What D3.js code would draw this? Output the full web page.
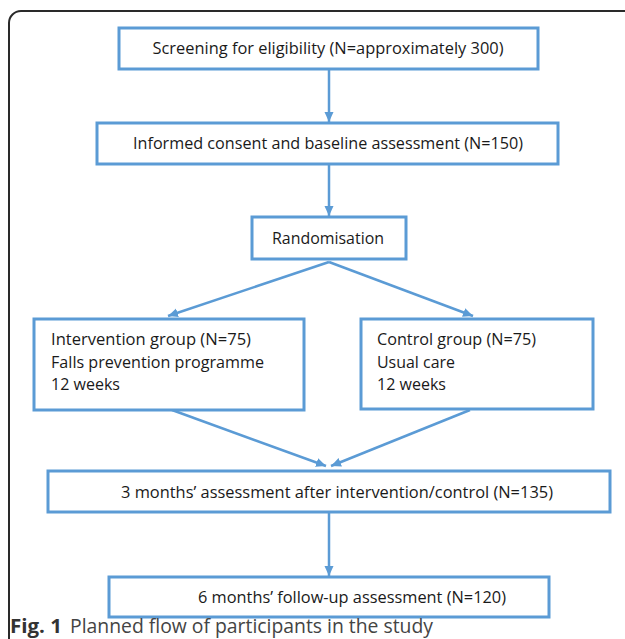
<!DOCTYPE html>
<html>
<head>
<meta charset="utf-8">
<script src="https://cdn.jsdelivr.net/npm/d3@7"></script>
<style>
  html, body { margin: 0; padding: 0; background: #fff; }
  svg { display: block; }
</style>
</head>
<body>
<div id="chart"></div>
<script>
// ---- Data (text content) ----
const stepIds = ["screen", "consent", "random", "interv", "control", "m3", "m6"];
const stepLines = [
  ["Screening for eligibility (N=approximately 300)"],
  ["Informed consent and baseline assessment (N=150)"],
  ["Randomisation"],
  ["Intervention group (N=75)", "Falls prevention programme", "12 weeks"],
  ["Control group (N=75)", "Usual care", "12 weeks"],
  ["3 months\u2019 assessment after intervention/control (N=135)"],
  ["6 months\u2019 follow-up assessment (N=120)"]
];
const flowFrom = ["screen", "consent", "random", "random", "interv", "control", "m3"];
const flowTo   = ["consent", "random", "interv", "control", "m3", "m3", "m6"];
const captionBold = "Fig. 1";
const captionText = "Planned flow of participants in the study";

// ---- Layout (positions / sizes) ----
const W = 625, H = 639;
const layout = {
  screen:  {x0: 119, x1: 538, y0: 28,  y1: 69,  align: "middle", tx: 328, ty: [54],  tw: [351]},
  consent: {x0: 97,  x1: 558, y0: 123, y1: 164, align: "middle", tx: 328, ty: [149], tw: [390]},
  random:  {x0: 252, x1: 406, y0: 217, y1: 259, align: "start",  tx: 272, ty: [244], tw: [112]},
  interv:  {x0: 34,  x1: 304, y0: 319, y1: 410, align: "start",  tx: 51,  ty: [345, 368, 390], tw: [200, 213, 69]},
  control: {x0: 361, x1: 593, y0: 319, y1: 409, align: "start",  tx: 377, ty: [345, 368, 390], tw: [159, 78, 69]},
  m3:      {x0: 48,  x1: 610, y0: 471, y1: 512, align: "start",  tx: 121, ty: [498], tw: [432]},
  m6:      {x0: 109, x1: 549, y0: 577, y1: 617, align: "start",  tx: 198, ty: [603], tw: [308]}
};
const arrowGeom = [
  {x1: 329, y1: 69,  x2: 329, y2: 122},
  {x1: 329, y1: 164, x2: 329, y2: 216},
  {x1: 329, y1: 262, x2: 168, y2: 316},
  {x1: 329, y1: 262, x2: 473, y2: 316},
  {x1: 172, y1: 410, x2: 326, y2: 466},
  {x1: 470, y1: 410, x2: 331, y2: 466},
  {x1: 329, y1: 512, x2: 329, y2: 576}
];

const blue = "#5B9BD5";

const svg = d3.select("#chart").append("svg")
  .attr("width", W).attr("height", H)
  .attr("viewBox", `0 0 ${W} ${H}`);

// outer frame (rounded top-left, runs off right/bottom)
svg.append("rect")
  .attr("x", 9).attr("y", 11)
  .attr("width", 700).attr("height", 700)
  .attr("rx", 12).attr("ry", 12)
  .attr("fill", "none")
  .attr("stroke", "#2a2a2a")
  .attr("stroke-width", 2);

// arrowhead marker
const defs = svg.append("defs");
defs.append("marker")
  .attr("id", "arrow")
  .attr("markerUnits", "userSpaceOnUse")
  .attr("viewBox", "0 0 10 10")
  .attr("refX", 10).attr("refY", 5)
  .attr("markerWidth", 10).attr("markerHeight", 10)
  .attr("orient", "auto")
  .append("path")
  .attr("d", "M0,0.5 L10,5 L0,9.5 Z")
  .attr("fill", blue);

// arrows
const flows = flowFrom.map((f, i) => ({from: f, to: flowTo[i], g: arrowGeom[i]}));
svg.append("g").selectAll("line")
  .data(flows)
  .join("line")
  .attr("x1", d => d.g.x1).attr("y1", d => d.g.y1)
  .attr("x2", d => d.g.x2).attr("y2", d => d.g.y2)
  .attr("stroke", blue)
  .attr("stroke-width", 2.5)
  .attr("marker-end", "url(#arrow)");

// boxes
const steps = stepIds.map((id, i) => ({id, lines: stepLines[i], L: layout[id]}));
const boxes = svg.append("g").selectAll("g")
  .data(steps)
  .join("g");

boxes.append("rect")
  .attr("x", d => d.L.x0).attr("y", d => d.L.y0)
  .attr("width", d => d.L.x1 - d.L.x0)
  .attr("height", d => d.L.y1 - d.L.y0)
  .attr("fill", "#fff")
  .attr("stroke", blue)
  .attr("stroke-width", 3);

boxes.each(function(d) {
  const g = d3.select(this);
  d.lines.forEach((line, j) => {
    g.append("text")
      .attr("x", d.L.tx)
      .attr("y", d.L.ty[j])
      .attr("text-anchor", d.L.align)
      .attr("font-family", "'Open Sans', sans-serif")
      .attr("font-size", 15.5)
      .attr("fill", "#1a1a1a")
      .attr("textLength", d.L.tw[j])
      .attr("lengthAdjust", "spacingAndGlyphs")
      .text(line);
  });
});

// caption
svg.append("text")
  .attr("x", 10).attr("y", 633)
  .attr("font-family", "'Open Sans', sans-serif")
  .attr("font-weight", "bold")
  .attr("font-size", 20)
  .attr("fill", "#333")
  .attr("textLength", 52)
  .attr("lengthAdjust", "spacingAndGlyphs")
  .text(captionBold);
svg.append("text")
  .attr("x", 70).attr("y", 633)
  .attr("font-family", "'Open Sans', sans-serif")
  .attr("font-size", 20)
  .attr("fill", "#444")
  .attr("textLength", 363)
  .attr("lengthAdjust", "spacingAndGlyphs")
  .text(captionText);
</script>
</body>
</html>
